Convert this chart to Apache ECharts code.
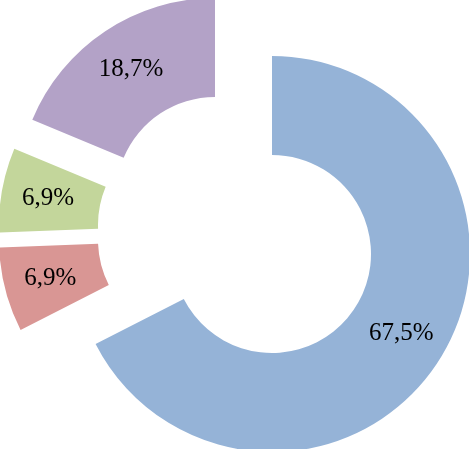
<!DOCTYPE html>
<html>
<head>
<meta charset="utf-8">
<script src="https://cdn.jsdelivr.net/npm/echarts@6/dist/echarts.min.js"></script>
<style>
  html, body { margin: 0; padding: 0; background: #fff; }
  #main { width: 469px; height: 449px; }
</style>
</head>
<body>
<div id="main"></div>
<script>
const categories = ['Categoria 1', 'Categoria 2', 'Categoria 3', 'Categoria 4'];
const values = [67.5, 6.9, 6.9, 18.7];
const colors = ['#95B3D7', '#D99694', '#C3D69B', '#B3A2C7'];
// how far each slice is pulled out of the ring (px)
const explode = [[0, 0], [-75, -14], [-75, -29], [-57, -58]];

var chartDom = document.getElementById('main');
var myChart = echarts.init(chartDom, null, { renderer: 'canvas' });
var option;

const cx = 272;
const cy = 254;

const series = categories.map(function (name, i) {
  return {
    type: 'pie',
    center: [cx + explode[i][0], cy + explode[i][1]],
    radius: [99, 198],
    startAngle: 90,
    clockwise: true,
    avoidLabelOverlap: false,
    silent: true,
    animation: false,
    label: {
      position: 'inside',
      fontFamily: '"Liberation Serif", "Times New Roman", serif',
      fontSize: 25,
      color: '#000',
      formatter: function (p) {
        return p.value.toFixed(1).replace('.', ',') + '%';
      }
    },
    labelLine: { show: false },
    data: categories.map(function (n, j) {
      return {
        name: n,
        value: values[j],
        itemStyle: { color: j === i ? colors[j] : 'rgba(0,0,0,0)' },
        label: { show: j === i }
      };
    })
  };
});

option = {
  backgroundColor: '#fff',
  series: series
};

option && myChart.setOption(option);
</script>
</body>
</html>
